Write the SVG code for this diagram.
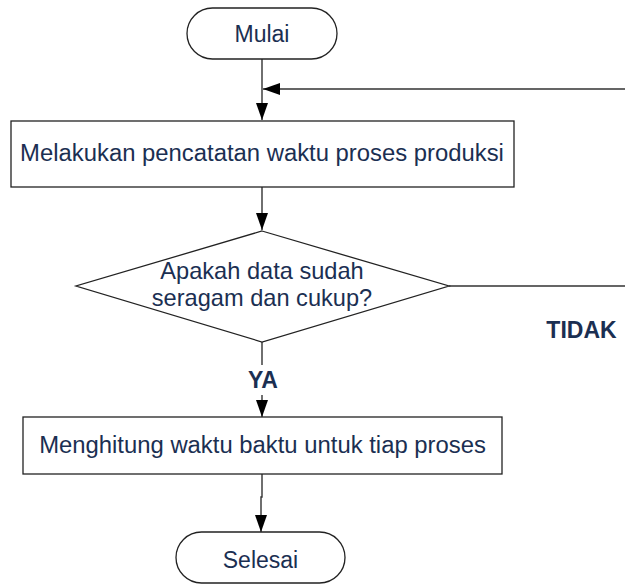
<svg xmlns="http://www.w3.org/2000/svg" width="625" height="587" viewBox="0 0 625 587">
<style>
.shape{fill:#fff;stroke:#222;stroke-width:1.3}
.conn{fill:none;stroke:#333;stroke-width:1.4}
.t{font-family:"Liberation Sans",Arial,sans-serif;font-size:23px;fill:#1b2f52;text-anchor:middle}
.b{font-weight:bold}
.big{font-size:23.85px}
.mid{font-size:23.6px}
</style>
<defs>
<marker id="arr" markerUnits="userSpaceOnUse" markerWidth="18" markerHeight="14" refX="17" refY="6" orient="auto">
<path d="M0,0 L17,6 L0,12 Z" fill="#000"/>
</marker>
</defs>
<rect width="625" height="587" fill="#fff"/>
<g id="connectors">
<path class="conn" d="M262,59 V120" marker-end="url(#arr)"/>
<path class="conn" d="M449,286 H626 V89 H263" marker-end="url(#arr)"/>
<path class="conn" d="M262,187 V230" marker-end="url(#arr)"/>
<path class="conn" d="M262,342 V365"/>
<path class="conn" d="M262,395 V417" marker-end="url(#arr)"/>
<path class="conn" d="M262,474 V497 H261 V532" marker-end="url(#arr)"/>
</g>
<g id="mulai">
<rect class="shape" x="187" y="8" width="150" height="51" rx="25.5"/>
<text class="t" x="262" y="41.5">Mulai</text>
</g>
<g id="pencatatan">
<rect class="shape" x="11" y="121" width="503" height="66"/>
<text class="t big" x="262" y="161">Melakukan pencatatan waktu proses produksi</text>
</g>
<g id="keputusan">
<polygon class="shape" points="262,231 449,286 262,342 76,286"/>
<text class="t mid" x="262" y="279">Apakah data sudah</text>
<text class="t mid" x="262" y="306">seragam dan cukup?</text>
</g>
<g id="label-tidak">
<text class="t b" x="581.5" y="338">TIDAK</text>
</g>
<g id="label-ya">
<text class="t b" x="263" y="387.5">YA</text>
</g>
<g id="menghitung">
<rect class="shape" x="23" y="417" width="479" height="57"/>
<text class="t big" x="262.5" y="453">Menghitung waktu baktu untuk tiap proses</text>
</g>
<g id="selesai">
<rect class="shape" x="176" y="532" width="169" height="51" rx="25.5"/>
<text class="t" x="260.5" y="568">Selesai</text>
</g>
</svg>
